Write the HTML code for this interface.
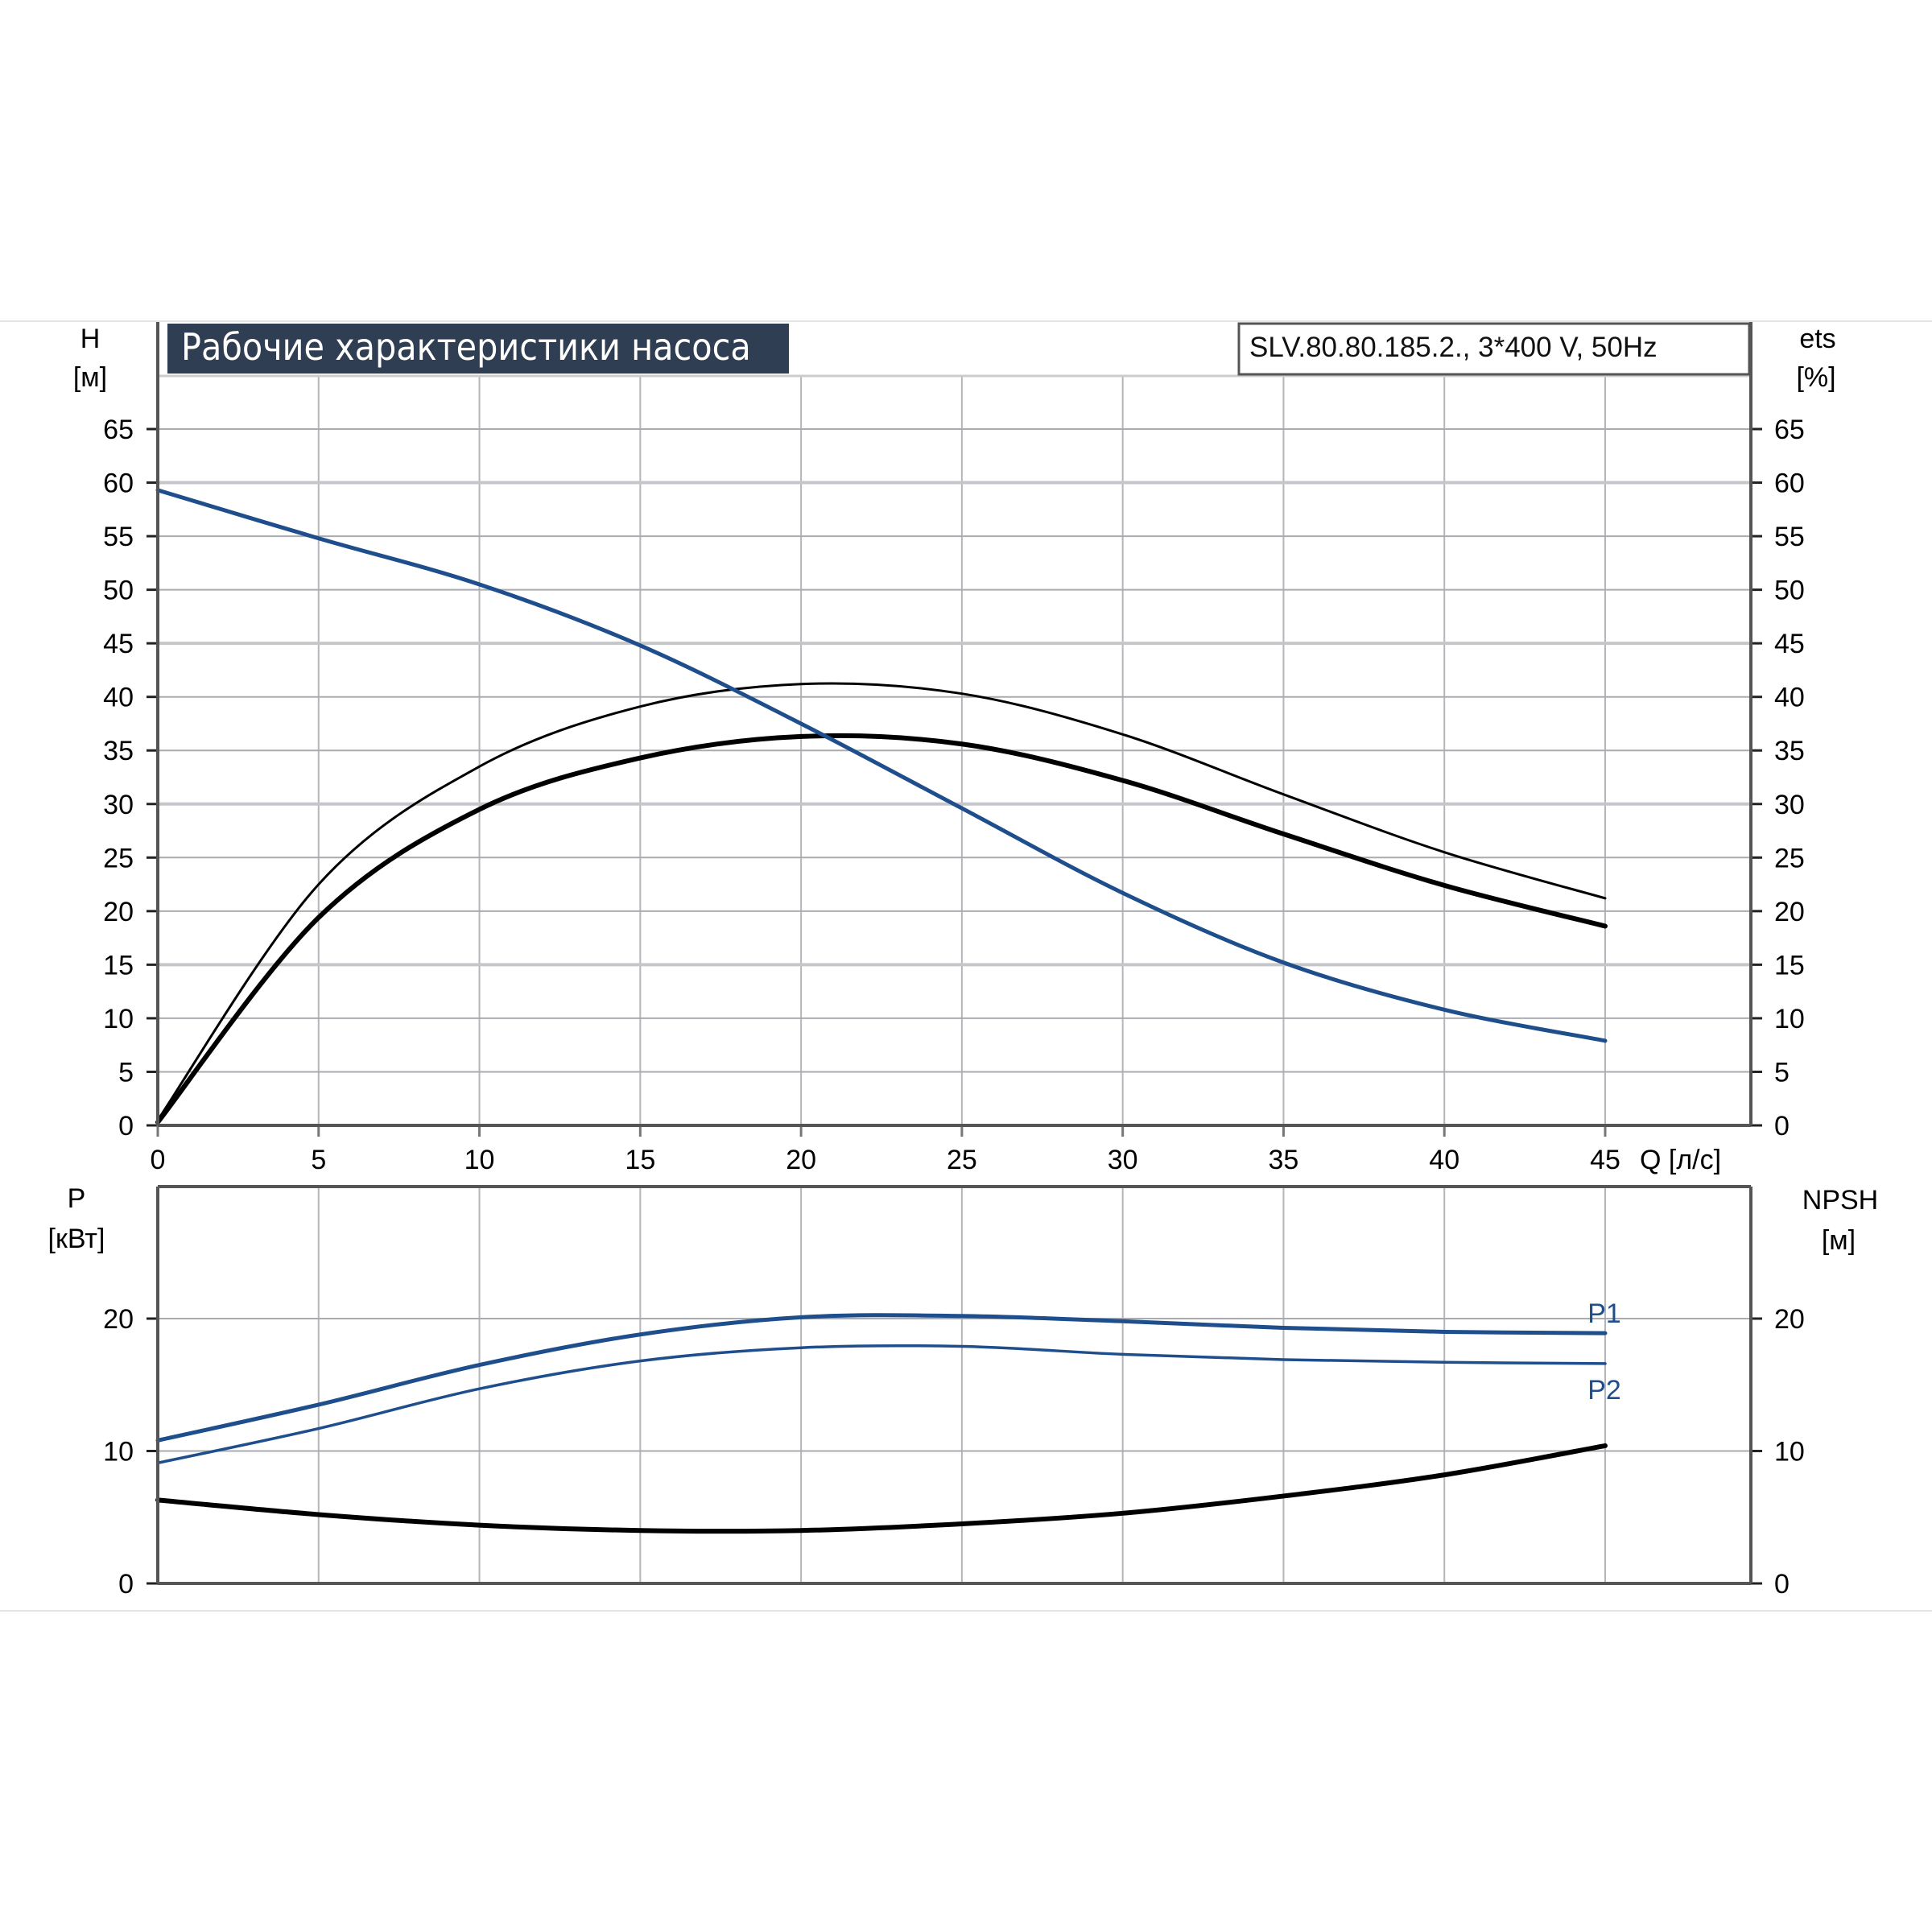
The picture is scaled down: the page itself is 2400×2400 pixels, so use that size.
<!DOCTYPE html>
<html><head><meta charset="utf-8"><style>
html,body{margin:0;padding:0;background:#fff;}
svg{display:block;font-family:"Liberation Sans",sans-serif;}
</style></head><body>
<svg id="chart" width="2400" height="2400" viewBox="0 0 2400 2400" xmlns="http://www.w3.org/2000/svg">
<line x1="0" y1="399" x2="2400" y2="399" stroke="#e4e4e4" stroke-width="2"/>
<line x1="0" y1="2001" x2="2400" y2="2001" stroke="#e4e4e4" stroke-width="2"/>
<g id="grid"></g>
<g id="curves"></g>
<g id="axes"></g>
<rect x="208" y="402" width="772" height="62" fill="#2f3e52"/>
<text x="225" y="447" fill="#fff" font-size="46" font-family="'DejaVu Sans Condensed','Liberation Sans Narrow','Liberation Sans',sans-serif">Рабочие характеристики насоса</text>
<rect x="1539" y="402" width="634" height="63" fill="#fff" stroke="#555" stroke-width="3"/>
<text x="1552" y="443" fill="#111" font-size="35">SLV.80.80.185.2., 3*400 V, 50Hz</text>
<text x="112" y="432" text-anchor="middle" font-size="34">H</text>
<text x="112" y="480" text-anchor="middle" font-size="34">[м]</text>
<text x="2258" y="432" text-anchor="middle" font-size="34">ets</text>
<text x="2256" y="480" text-anchor="middle" font-size="34">[%]</text>
<text x="95" y="1500" text-anchor="middle" font-size="34">P</text>
<text x="95" y="1550" text-anchor="middle" font-size="34">[кВт]</text>
<text x="2286" y="1502" text-anchor="middle" font-size="34">NPSH</text>
<text x="2284" y="1552" text-anchor="middle" font-size="34">[м]</text>
<text x="2037" y="1452" font-size="34">Q [л/с]</text>
<text x="1993" y="1643" text-anchor="middle" fill="#1f4e8c" font-size="34">P1</text>
<text x="1993" y="1738" text-anchor="middle" fill="#1f4e8c" font-size="34">P2</text>
</svg>
<script>
const qValues=[0,5,10,15,20,25,30,35,40,45];
const headValues=[59.3,54.8,50.5,44.8,37.5,29.6,21.7,15.2,10.8,7.9];
const etaTotalValues=[0.5,22.5,33.5,39.1,41.2,40.3,36.5,30.9,25.5,21.2];
const etaPumpValues=[0.3,19.4,29.5,34.3,36.3,35.6,32.2,27.2,22.4,18.6];
const p1Values=[10.8,13.5,16.5,18.8,20.1,20.2,19.8,19.3,19.0,18.9];
const p2Values=[9.1,11.7,14.7,16.8,17.8,17.9,17.3,16.9,16.7,16.6];
const npshValues=[6.3,5.2,4.4,4.0,4.0,4.5,5.3,6.6,8.2,10.4];
const xTicks=[0,5,10,15,20,25,30,35,40,45];
const topTicks=[0,5,10,15,20,25,30,35,40,45,50,55,60,65];
const bottomTicks=[0,10,20];

const NS='http://www.w3.org/2000/svg';
const X0=196,X45=1994,XR=2175;
const xs=q=>X0+(X45-X0)*q/45;
const yTop=v=>1398-(1398-533)*v/65;
const yBot=v=>1967-(1967-1638)*v/20;
function mk(tag,attrs,parent){const e=document.createElementNS(NS,tag);for(const k in attrs)e.setAttribute(k,attrs[k]);parent.appendChild(e);return e;}
const grid=document.getElementById('grid'),axes=document.getElementById('axes'),curves=document.getElementById('curves');

// top grid
xTicks.forEach(q=>{if(q===0)return;
 const l=mk('line',{x1:xs(q),y1:467,x2:xs(q),y2:1398,stroke:'#b4b6bb','stroke-width':2},grid);
 
 
 const b=mk('line',{x1:xs(q),y1:1474,x2:xs(q),y2:1967,stroke:'#b4b6bb','stroke-width':2},grid);
 
 
});
const gh=mk('line',{x1:X0,y1:467,x2:XR,y2:467,stroke:'#ccc','stroke-width':3},grid);


topTicks.forEach(v=>{
 if(v>0){const heavy=(v%15===0);
 const l=mk('line',{x1:X0,y1:yTop(v),x2:XR,y2:yTop(v),stroke:heavy?'#c4c6ca':'#a9abb0','stroke-width':heavy?4:2},grid);
 
 }
 const t1=mk('text',{x:166,y:yTop(v)+12,'text-anchor':'end','font-size':34},axes);t1.textContent=v;
 
 
 const t2=mk('text',{x:2204,y:yTop(v)+12,'font-size':34},axes);t2.textContent=v;
 
 
 mk('line',{x1:182,y1:yTop(v),x2:196,y2:yTop(v),stroke:'#222','stroke-width':3},axes);
 mk('line',{x1:2175,y1:yTop(v),x2:2189,y2:yTop(v),stroke:'#222','stroke-width':3},axes);
});
bottomTicks.forEach(v=>{
 if(v>0){const l=mk('line',{x1:X0,y1:yBot(v),x2:XR,y2:yBot(v),stroke:'#a9abb0','stroke-width':2},grid);
 
 }
 const t1=mk('text',{x:166,y:yBot(v)+12,'text-anchor':'end','font-size':34},axes);t1.textContent=v;
 
 
 const t2=mk('text',{x:2204,y:yBot(v)+12,'font-size':34},axes);t2.textContent=v;
 
 
 mk('line',{x1:182,y1:yBot(v),x2:196,y2:yBot(v),stroke:'#222','stroke-width':3},axes);
 mk('line',{x1:2175,y1:yBot(v),x2:2189,y2:yBot(v),stroke:'#222','stroke-width':3},axes);
});
xTicks.forEach(q=>{
 const t=mk('text',{x:xs(q),y:1452,'text-anchor':'middle','font-size':34},axes);t.textContent=q;
 
 
 mk('line',{x1:xs(q),y1:1398,x2:xs(q),y2:1412,stroke:'#777','stroke-width':3},axes);
});
// axes frames
[[X0,400,X0,1398],[XR,400,XR,1398],[X0,1398,XR,1398],[X0,1474,X0,1967],[XR,1474,XR,1967],[X0,1967,XR,1967],[X0,1474,XR,1474]].forEach(a=>{
 const l=mk('line',{x1:a[0],y1:a[1],x2:a[2],y2:a[3],stroke:'#555','stroke-width':4},axes);
 
 
});

function smooth(vals,yf){
 const p=qValues.map((q,i)=>[xs(q),yf(vals[i])]);
 let d='M'+p[0][0]+','+p[0][1];
 for(let i=0;i<p.length-1;i++){
  const p0=p[Math.max(0,i-1)],p1=p[i],p2=p[i+1],p3=p[Math.min(p.length-1,i+2)];
  const c1=[p1[0]+(p2[0]-p0[0])/6,p1[1]+(p2[1]-p0[1])/6];
  const c2=[p2[0]-(p3[0]-p1[0])/6,p2[1]-(p3[1]-p1[1])/6];
  d+=' C'+c1+' '+c2+' '+p2;
 }
 return d;
}
function curve(vals,yf,color,w,name){
 const e=mk('path',{d:smooth(vals,yf),fill:'none',stroke:color,'stroke-width':w,'stroke-linecap':'round'},curves);
 
 
}
curve(etaTotalValues,yTop,'#000',3,'efficiency-total-curve');
curve(etaPumpValues,yTop,'#000',6,'efficiency-pump-curve');
curve(headValues,yTop,'#1f4e8c',5,'head-curve');
curve(p1Values,yBot,'#1f4e8c',5,'p1-curve');
curve(p2Values,yBot,'#1f4e8c',3.5,'p2-curve');
curve(npshValues,yBot,'#000',6,'npsh-curve');
</script>
</body></html>
